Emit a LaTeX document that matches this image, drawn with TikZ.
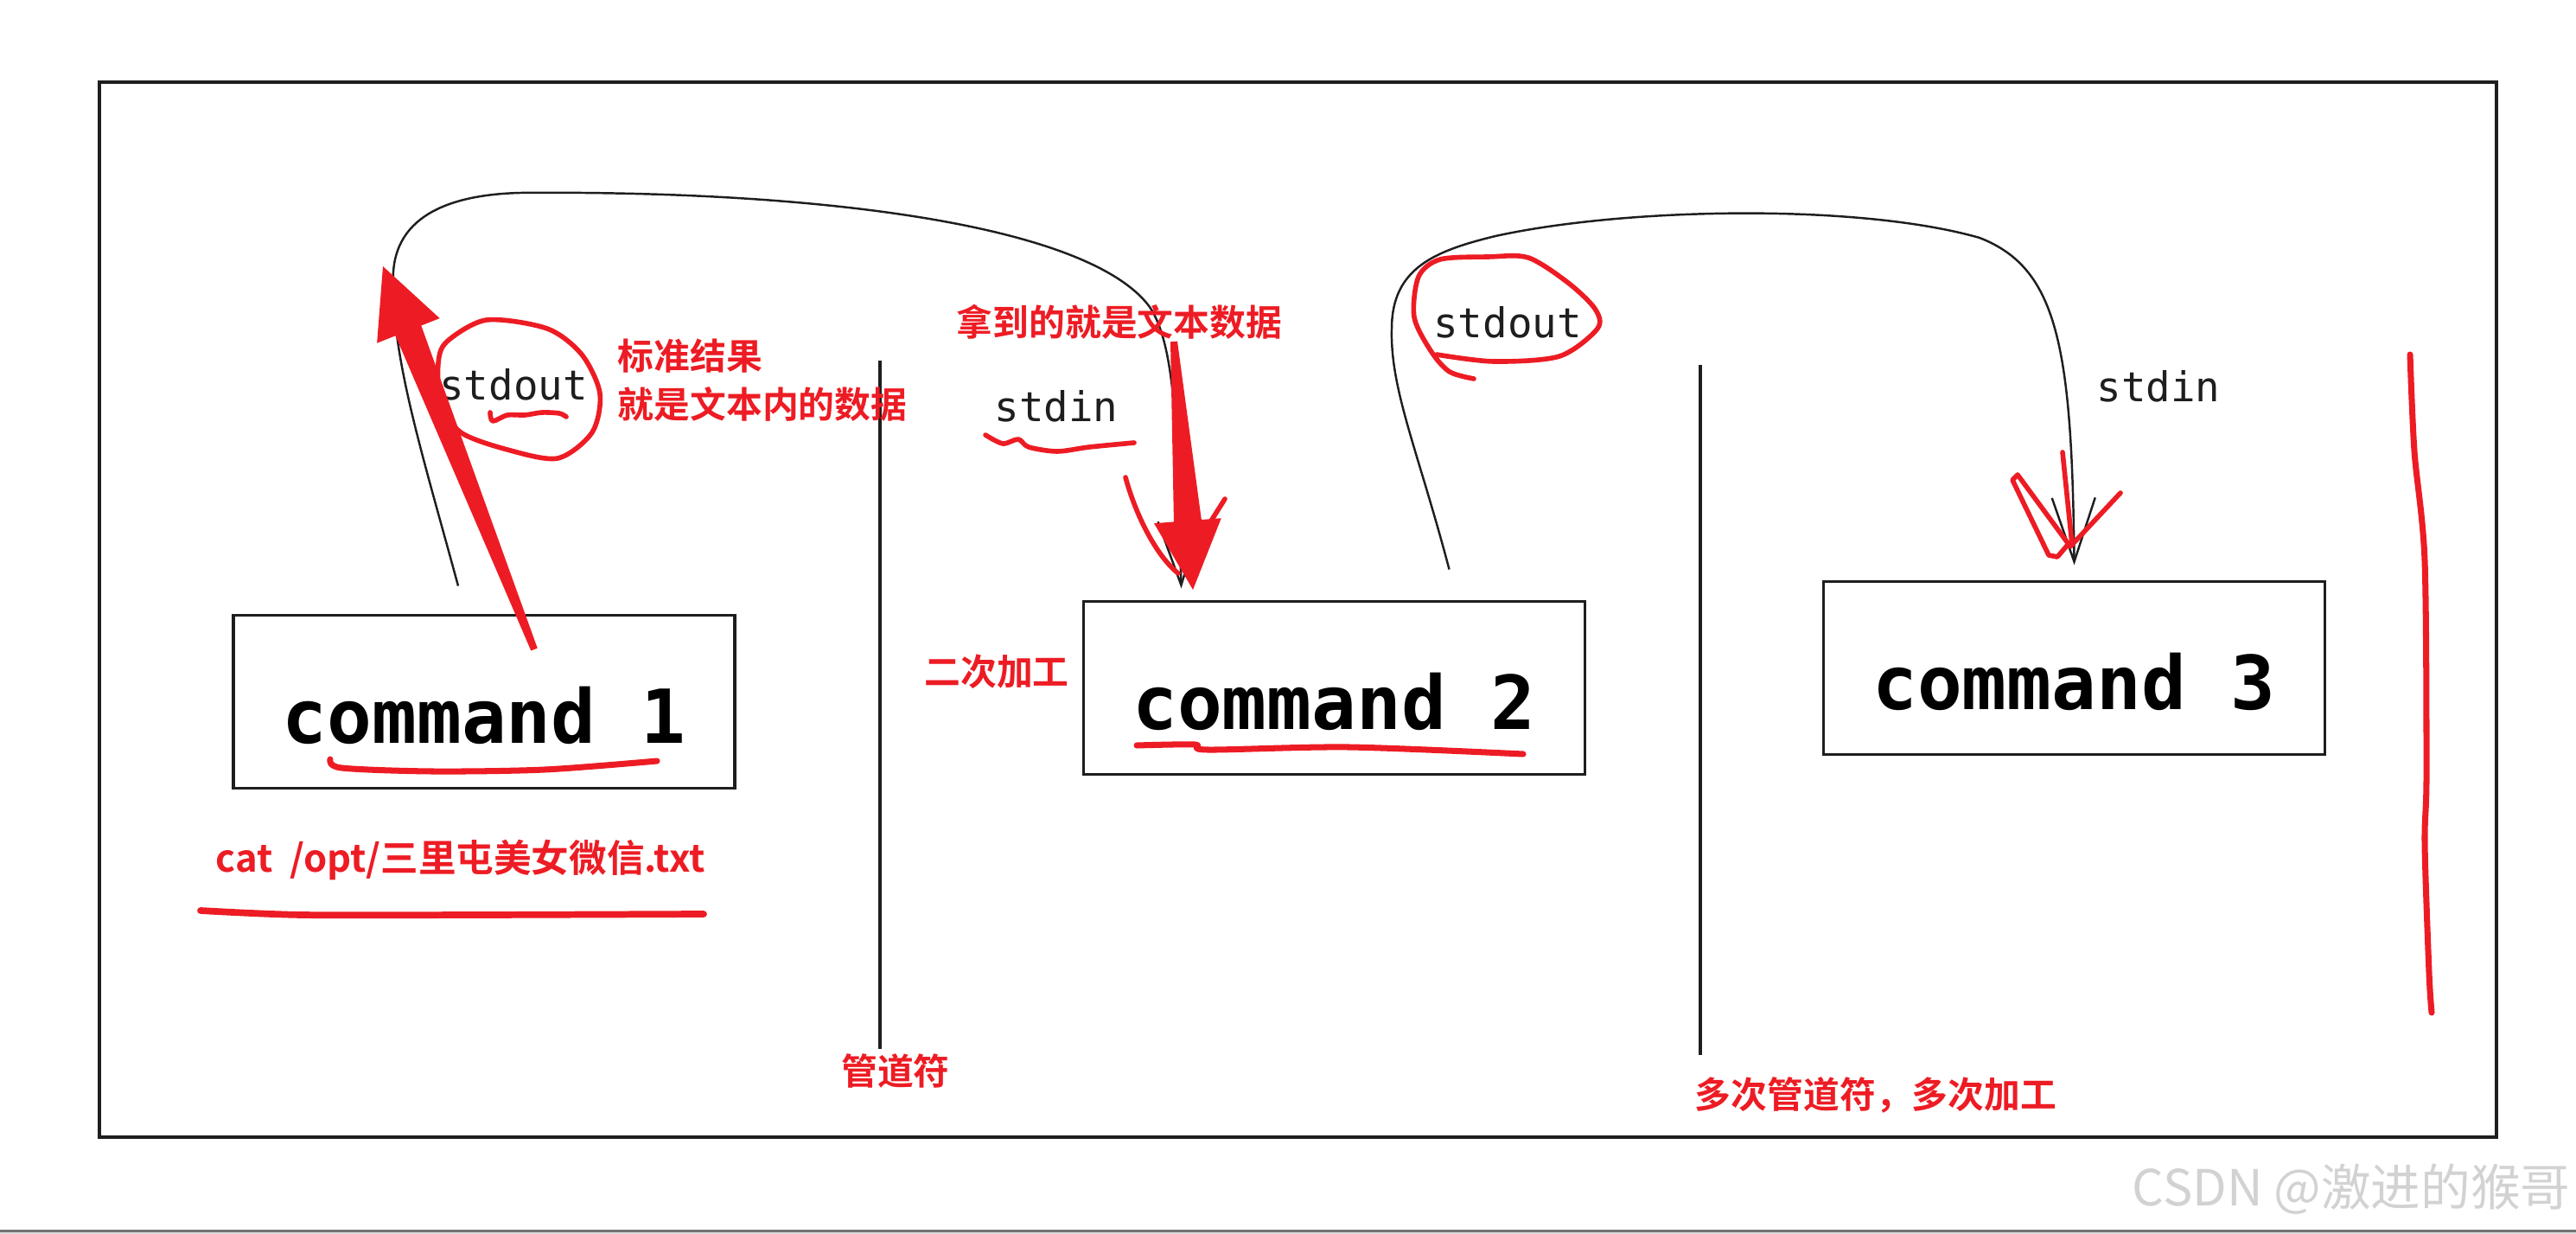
\documentclass[tikz,border=0pt]{standalone}
\usepackage{fontspec}
\setmonofont{DejaVu Sans Mono}
\newfontfamily\notefont{Noto Sans CJK SC Bold}
\newfontfamily\markfont{Noto Sans CJK SC}
\definecolor{inkblack}{HTML}{1E1E1E}
\definecolor{markred}{HTML}{ED1C24}
\definecolor{markgray}{HTML}{D2D2D2}
\usetikzlibrary{calc, arrows.meta, positioning}

% thick hand drawn red arrow: #1 tail, #2 tip
\newcommand{\bigredarrow}[2]{%
  \coordinate (headbase) at ($(#2)!0.8cm!(#1)$);
  \fill[markred] ($(#1)!0.04cm!90:(#2)$) -- ($(headbase)!0.16cm!90:(#2)$)
    -- ($(headbase)!0.39cm!90:(#2)$) -- (#2) -- ($(headbase)!0.39cm!-90:(#2)$)
    -- ($(headbase)!0.16cm!-90:(#2)$) -- ($(#1)!0.04cm!-90:(#2)$) -- cycle;
}

\begin{document}
\begin{tikzpicture}[x=1cm, y=-1cm,
    cmdbox/.style={draw=inkblack, line width=0.9pt, minimum width=5.8cm, minimum height=2cm,
      inner sep=0pt, outer sep=0pt, text height=0.95cm, text depth=0pt,
      font=\ttfamily\bfseries\fontsize{24.5}{28}\selectfont},
    streamlabel/.style={text=inkblack, inner sep=0pt, font=\ttfamily\fontsize{13.5}{16}\selectfont},
    note/.style={text=markred, inner sep=0pt, font=\notefont\fontsize{11.9}{15.9}\selectfont},
    link/.style={draw=inkblack, line width=0.7pt},
    pipe/.style={draw=inkblack, line width=1pt},
    scribble/.style={draw=markred, line width=1.6pt, line cap=round, line join=round}]
      \useasboundingbox (0,0) rectangle (29.8,14.27);
      % Frame
      \draw[inkblack, line width=1pt] (1.15,0.95) rectangle (28.88,13.15);
      \fill[black!55] (0,14.22) rectangle (29.8,14.245);
      \fill[black!15] (0,14.245) rectangle (29.8,14.27);
      % Commands
      \node[cmdbox] (cmdA) at (5.60,8.115) {command 1};
      \node[cmdbox] (cmdB) at (15.435,7.955) {command 2};
      \node[cmdbox] (cmdC) at (23.995,7.725) {command 3};
      % Pipes
      \draw[pipe] (10.18,4.17) -- (10.18,12.13);
      \draw[pipe] (19.67,4.22) -- (19.67,12.20);
      % Streams
      \coordinate (outA) at ([xshift=-0.30cm, yshift=0.34cm]cmdA.north);
      \coordinate (inB) at ([xshift=-1.77cm, yshift=0.15cm]cmdB.north);
      \coordinate (outB) at ([xshift=1.33cm, yshift=0.37cm]cmdB.north);
      \coordinate (inC) at ([yshift=0.19cm]cmdC.north);
      \draw[link, -{Straight Barb[length=7.4mm, width=5mm]}] (outA)
        .. controls (4.9,5.3) and (4.55,4.2) .. (4.55,3.3)
        .. controls (4.5,2.5) and (5.2,2.25) .. (6.02,2.23)
        .. controls (9.5,2.2) and (12.6,2.6) .. (13.3,3.55)
        .. controls (13.6,4.0) and (13.62,5.0) .. (inB);
      \draw[link, -{Straight Barb[length=7.4mm, width=5mm]}] (outB)
        .. controls (16.4,5.2) and (16.08,4.5) .. (16.10,3.8)
        .. controls (16.1,3.1) and (16.6,2.9) .. (17.3,2.73)
        .. controls (18.8,2.4) and (21.5,2.35) .. (22.9,2.75)
        .. controls (23.8,3.1) and (23.97,4.0) .. (inC);
      \node[streamlabel] (outlabelA) at (5.94,4.45) {stdout};
      \node[streamlabel] (inlabelB) at (12.22,4.70) {stdin};
      \node[streamlabel] (outlabelB) at (17.44,3.73) {stdout};
      \node[streamlabel] (inlabelC) at (24.97,4.47) {stdin};
      % Red notes
      \node[note, anchor=west, align=left] (noteA) at (7.14,4.40) {标准结果\\就是文本内的数据};
      \node[note] (noteB) at (12.95,3.72) {拿到的就是文本数据};
      \node[note] (noteC) at (11.53,7.77) {二次加工};
      \node[note, font=\notefont\fontsize{12.4}{15}\selectfont] (noteD) at (5.33,9.95) {cat~~/opt/三里屯美女微信.txt};
      \node[note] (noteE) at (10.36,12.38) {管道符};
      \node[note] (noteF) at (21.70,12.66) {多次管道符，多次加工};
      % Red marks
      \draw[scribble] plot[smooth cycle] coordinates {(5.07,4.20) (5.17,3.95) (5.63,3.70) (6.33,3.80)
        (6.73,4.10) (6.94,4.55) (6.85,5.00) (6.45,5.30) (5.87,5.20) (5.33,5.00) (5.10,4.65)};
      \draw[scribble] plot[smooth] coordinates {(5.67,4.77) (5.70,4.87) (5.87,4.80) (6.07,4.80)
        (6.27,4.77) (6.47,4.78) (6.55,4.82)};
      \draw[scribble] plot[smooth] coordinates {(11.40,5.03) (11.60,5.13) (11.78,5.08) (11.90,5.17)
        (12.23,5.22) (12.60,5.17) (13.12,5.12)};
      \draw[scribble] plot[smooth] coordinates {(17.05,4.38) (16.77,4.30) (16.56,4.07) (16.36,3.67)
        (16.41,3.20) (16.66,3.00) (17.22,2.97) (17.68,2.98) (18.14,3.27) (18.45,3.57) (18.48,3.80)
        (18.04,4.12) (17.28,4.18) (16.62,4.10)};
      \draw[scribble] (13.02,5.52) .. controls (13.15,6.0) and (13.4,6.45) .. (13.63,6.63);
      \draw[scribble] (14.17,5.77) -- (13.93,6.15);
      \draw[scribble] (23.86,5.23) -- (23.97,6.30);
      \draw[scribble] plot coordinates {(24.53,5.70) (23.95,6.32) (23.34,5.49) (23.28,5.55)
        (23.70,6.42) (23.80,6.44) (23.92,6.30)};
      \draw[scribble, line width=2pt] plot[smooth] coordinates {(3.82,8.78) (3.95,8.88) (5.0,8.92)
        (6.3,8.90) (7.6,8.80)};
      \draw[scribble, line width=2pt] plot[smooth] coordinates {(13.15,8.62) (13.82,8.61) (13.97,8.67)
        (15.60,8.64) (17.62,8.72)};
      \draw[scribble, line width=2.2pt] plot[smooth] coordinates {(2.32,10.53) (3.5,10.58) (5.5,10.58)
        (8.14,10.57)};
      \draw[scribble, line width=2pt] plot[smooth] coordinates {(27.88,4.10) (27.93,5.22) (28.05,6.49)
        (28.07,8.95) (28.05,9.76) (28.10,11.25) (28.13,11.71)};
      % Big arrows
      \coordinate (tailA) at (6.18,7.51);
      \coordinate (tipA) at (4.43,3.08);
      \bigredarrow{tailA}{tipA}
      \coordinate (tailB) at (13.58,3.95);
      \coordinate (tipB) at (13.80,6.82);
      \bigredarrow{tailB}{tipB}
      % Watermark
      \node[text=markgray, inner sep=0pt, anchor=east, font=\markfont\fontsize{16.4}{18}\selectfont]
        (watermark) at (29.74,13.75) {CSDN @激进的猴哥};
\end{tikzpicture}
\end{document}
